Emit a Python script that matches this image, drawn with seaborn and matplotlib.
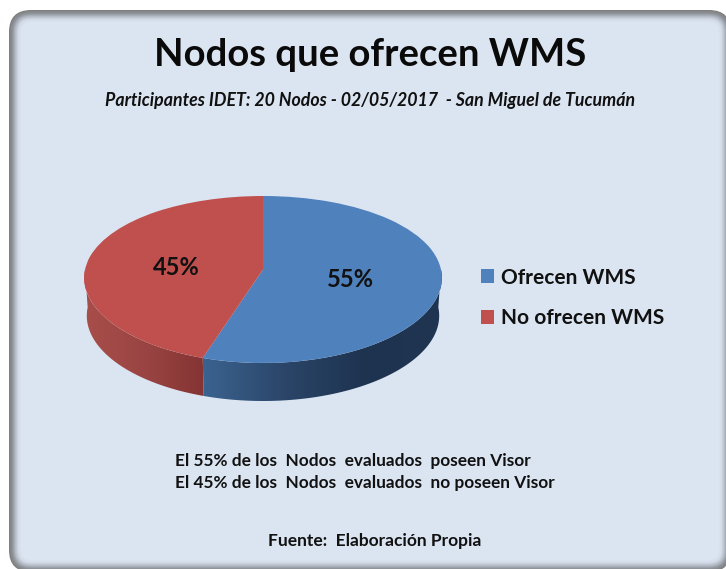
#!/usr/bin/env python3
import numpy as np
import seaborn as sns
import matplotlib
matplotlib.use("Agg")
import matplotlib.pyplot as plt
from matplotlib.patches import FancyBboxPatch, Polygon
from matplotlib.transforms import Transform

# data
categories = ["Ofrecen WMS", "No ofrecen WMS"]
values = [55, 45]
title = "Nodos que ofrecen WMS"
subtitle = "Participantes IDET: 20 Nodos - 02/05/2017  - San Miguel de Tucumán"
note_lines = ["El 55% de los  Nodos  evaluados  poseen Visor",
              "El 45% de los  Nodos  evaluados  no poseen Visor"]
source = "Fuente:  Elaboración Propia"

W, H = 726, 569
CX, CY, RX, RY = 263, 279.5, 178, 83.5   # pie top, in pixels
DEPTH = 38


class TiltedPie(Transform):
    """Unit pie -> pixels, with a bit of perspective (near side bigger)."""
    input_dims = output_dims = 2

    def __init__(self, drop=0.0, shrink=1.0):
        super().__init__()
        self.drop, self.shrink = drop, shrink

    def transform_non_affine(self, values):
        xy = np.asarray(values, dtype=float)
        x, y = xy[:, 0], xy[:, 1]
        px = CX + RX * self.shrink * x * (1 - 0.1 * y)
        py = CY + self.drop - RY * (y + 0.12 * (1 - y ** 2))
        return np.column_stack([px, py])


def side_polygon(ax, theta1, theta2, cols):
    # outer wall of a slice between two angles, filled with a left-right gradient
    t = np.radians(np.linspace(theta1, theta2, 80))
    unit = np.column_stack([np.cos(t), np.sin(t)])
    top = TiltedPie().transform(unit)
    bottom = TiltedPie(DEPTH, 0.985).transform(unit)
    outline = np.vstack([top, bottom[::-1]])
    poly = Polygon(outline, closed=True, fc="none", ec="none", transform=ax.transData)
    ax.add_patch(poly)
    cmap = sns.blend_palette(cols, as_cmap=True)
    im = ax.imshow(np.linspace(0, 1, 256)[None, :], cmap=cmap, aspect="auto",
                   extent=(outline[:, 0].min(), outline[:, 0].max(),
                           outline[:, 1].max(), outline[:, 1].min()), zorder=2)
    im.set_clip_path(poly)


sns.set_theme(style="white")
plt.rcParams["font.family"] = ["Lato", "DejaVu Sans"]
palette = sns.color_palette(["#4f81bd", "#c0504d"])

fig = plt.figure(figsize=(W / 100, H / 100), dpi=100, facecolor="white")
ax = fig.add_axes([0, 0, 1, 1])

# pie on top, slices come from the values
wedges, _, autotexts = ax.pie(values, colors=palette, startangle=90, counterclock=False,
                              autopct="%d%%", wedgeprops=dict(linewidth=0, edgecolor="none"),
                              textprops=dict(fontsize=17, fontweight="bold", color="#111111"))
ax.set_aspect("auto")
ax.axis("off")
ax.set_xlim(0, W)
ax.set_ylim(H, 0)

# panel with soft inner shadow, runs off the right and bottom of the picture
n_steps = 13
shade = sns.blend_palette(["#7f7f7f", "#8f939a", "#b4bcc7", "#d2dbe7", "#dbe5f1"], n_steps)
for i, c in enumerate(shade):
    inset = i * 1.0
    ax.add_patch(FancyBboxPatch((9 + inset, 10 + inset), 731 - 9 - 2 * inset, 572 - 10 - 2 * inset,
                                boxstyle=f"round,pad=0,rounding_size={max(22 - inset, 6)}",
                                fc=c, ec="none", zorder=0.5 + i * 0.01))

for w in wedges:
    w.set_transform(TiltedPie() + ax.transData)
    w.set_zorder(3)

split = wedges[0].theta1  # boundary between the slices, front side
side_polygon(ax, -180, split, ["#a84e4a", "#9a4543", "#843433"])
side_polygon(ax, split, 0, ["#3b6390", "#2b4669", "#1e3350", "#1f3552"])
ax.set_xlim(0, W)
ax.set_ylim(H, 0)

# percent labels, moved to where they sit on the tilted pie
for txt, pos in zip(autotexts, [(350, 279), (176, 267)]):
    txt.set_position(pos)
    txt.set_ha("center")
    txt.set_va("center")
    txt.set_zorder(5)

ax.text(370, 55, title, fontsize=27.5, fontweight="bold", ha="center", va="center", color="#0a0a0a")
ax.text(370, 100, subtitle, fontsize=12.8, fontweight="bold", style="italic",
        ha="center", va="center", color="#111111")
for line, y in zip(note_lines, [461, 483]):
    ax.text(175, y, line, fontsize=12.4, fontweight="bold", ha="left", va="center", color="#111111")
ax.text(375, 541, source, fontsize=12.5, fontweight="bold", ha="center", va="center", color="#111111")

leg = ax.legend(wedges, categories, loc="center left", bbox_to_anchor=(481 / W, 1 - 298 / H),
                frameon=False, handlelength=0.64, handleheight=0.64,
                handletextpad=0.3, labelspacing=1.0, borderpad=0, borderaxespad=0,
                prop=dict(weight="bold", size=15))
for t in leg.get_texts():
    t.set_color("#111111")

fig.savefig("out.png", dpi=100, facecolor="white")
